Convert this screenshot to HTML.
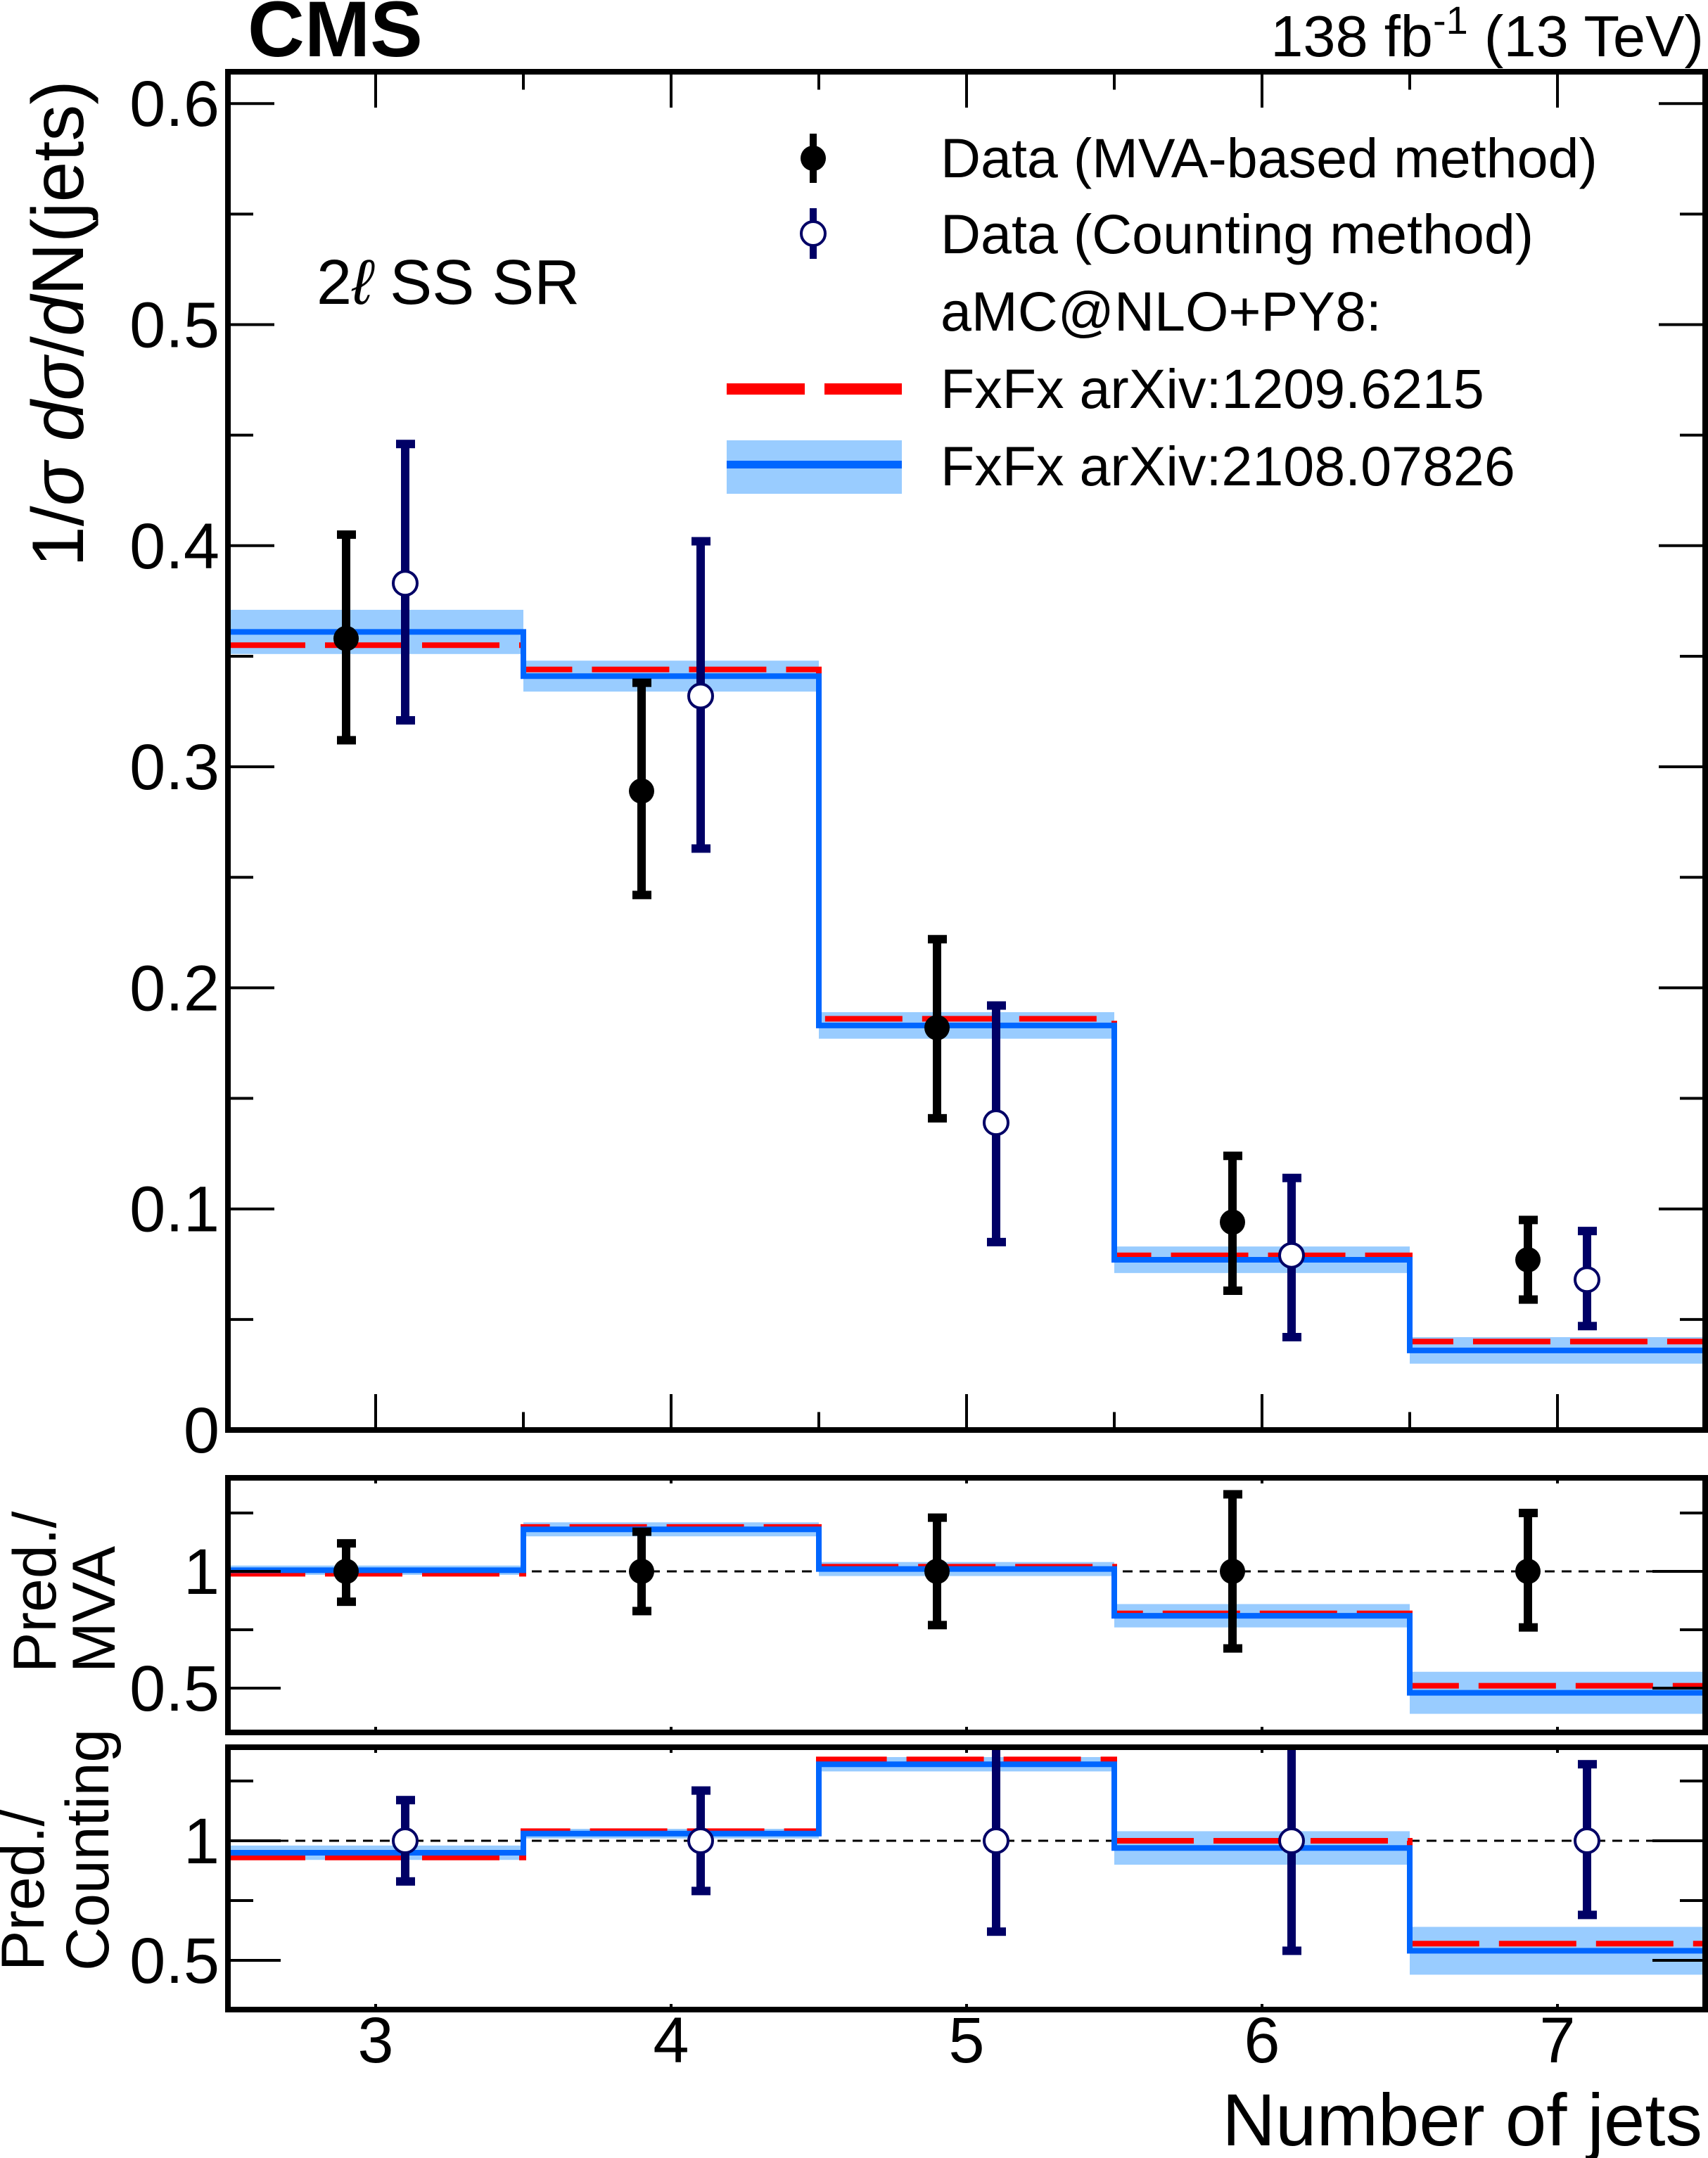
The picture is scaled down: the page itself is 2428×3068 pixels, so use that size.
<!DOCTYPE html>
<html><head><meta charset="utf-8">
<style>
html,body{margin:0;padding:0;background:#fff;}
svg{display:block;font-family:"Liberation Sans",sans-serif;}
</style></head>
<body>
<svg id="chart" width="2428" height="3068" viewBox="0 0 2428 3068" xmlns="http://www.w3.org/2000/svg">
<g id="layer-bands"></g>
<g id="layer-lines"></g>
<g id="layer-data"></g>
<g id="layer-axes"></g>
<text x="352" y="80" font-size="112" font-weight="bold">CMS</text>
<text x="2422" y="80" font-size="83" text-anchor="end">138 fb<tspan dy="-32" font-size="56">-1</tspan><tspan dy="32"> (13 TeV)</tspan></text>
<text x="450" y="432" font-size="90">2<tspan font-style="italic">ℓ</tspan> SS SR</text>
<text transform="translate(118,460) rotate(-90)" font-size="104" text-anchor="middle">1/<tspan font-style="italic">σ</tspan> <tspan font-style="italic">d</tspan><tspan font-style="italic">σ</tspan>/<tspan font-style="italic">d</tspan>N(jets)</text>
<text transform="translate(0,2378) rotate(-90)" font-size="86" text-anchor="start"><tspan x="0" y="79">Pred./</tspan><tspan x="0" y="163">MVA</tspan></text>
<text transform="translate(0,2802) rotate(-90)" font-size="86" text-anchor="start"><tspan x="0" y="62">Pred./</tspan><tspan x="0" y="154">Counting</tspan></text>
<text x="2420" y="3050" font-size="105" text-anchor="end">Number of jets</text>
<g font-size="79">
  <g>
    <line x1="1156" y1="190" x2="1156" y2="260" stroke="#000" stroke-width="10"/>
    <circle cx="1156" cy="225" r="18" fill="#000"/>
    <text x="1337" y="252">Data (MVA-based method)</text>
  </g>
  <g>
    <line x1="1156" y1="296" x2="1156" y2="368" stroke="#000066" stroke-width="10"/>
    <circle cx="1156" cy="332" r="17" fill="#fff" stroke="#000066" stroke-width="4"/>
    <text x="1337" y="360">Data (Counting method)</text>
  </g>
  <text x="1337" y="470">aMC@NLO+PY8:</text>
  <g>
    <rect x="1033" y="545" width="111" height="16" fill="#ff0000"/>
    <rect x="1172" y="545" width="110" height="16" fill="#ff0000"/>
    <text x="1337" y="580">FxFx arXiv:1209.6215</text>
  </g>
  <g>
    <rect x="1033" y="626" width="249" height="76" fill="#99ccff"/>
    <rect x="1033" y="655" width="249" height="11" fill="#0066ff"/>
    <text x="1337" y="690">FxFx arXiv:2108.07826</text>
  </g>
</g>
<script>
// ---- data ----
const binEdges = [2.5, 3.5, 4.5, 5.5, 6.5, 7.5];
const xTickValues = [3, 4, 5, 6, 7];
const xTickLabels = ["3", "4", "5", "6", "7"];
const mainTickValues = [0, 0.1, 0.2, 0.3, 0.4, 0.5, 0.6];
const mainTickLabels = ["0", "0.1", "0.2", "0.3", "0.4", "0.5", "0.6"];
const ratioTickValues = [0.5, 1];
const ratioTickLabels = ["0.5", "1"];

const mvaX = [2.9, 3.9, 4.9, 5.9, 6.9];
const mvaY = [0.358, 0.289, 0.182, 0.094, 0.077];
const mvaLo = [0.312, 0.242, 0.141, 0.063, 0.059];
const mvaHi = [0.405, 0.338, 0.222, 0.124, 0.095];

const cntX = [3.1, 4.1, 5.1, 6.1, 7.1];
const cntY = [0.383, 0.332, 0.139, 0.079, 0.068];
const cntLo = [0.321, 0.263, 0.085, 0.042, 0.047];
const cntHi = [0.446, 0.402, 0.192, 0.114, 0.090];

const oldPred = [0.355, 0.344, 0.186, 0.079, 0.040];
const newPred = [0.361, 0.341, 0.183, 0.077, 0.036];
const newPredUnc = [0.010, 0.007, 0.006, 0.006, 0.006];

const r1Old = [0.99, 1.19, 1.02, 0.82, 0.51];
const r1New = [1.005, 1.18, 1.01, 0.81, 0.48];
const r1Unc = [0.02, 0.03, 0.03, 0.05, 0.09];
const r1DataLo = [0.87, 0.83, 0.77, 0.67, 0.76];
const r1DataHi = [1.12, 1.17, 1.23, 1.33, 1.25];

const r2Old = [0.93, 1.04, 1.34, 1.00, 0.57];
const r2New = [0.95, 1.03, 1.32, 0.97, 0.54];
const r2Unc = [0.03, 0.02, 0.03, 0.07, 0.10];
const r2DataLo = [0.83, 0.79, 0.62, 0.54, 0.69];
const r2DataHi = [1.17, 1.21, 1.45, 1.45, 1.32];

// ---- layout ----
const NS = "http://www.w3.org/2000/svg";
const X0 = 324, X1 = 2424;
const xs = v => X0 + (v - 2.5) * (X1 - X0) / 5;
const panels = [
  {top: 102, bot: 2033, y: v => 2033 - v * 3143, vmin: 0, vmax: 0.614, name: "main"},
  {top: 2101, bot: 2463, y: v => 2234 - (v - 1) * 332, vmin: 0.31, vmax: 1.40, name: "ratio-mva"},
  {top: 2484, bot: 2857, y: v => 2617 - (v - 1) * 340, vmin: 0.29, vmax: 1.39, name: "ratio-counting"}
];
const gB = document.getElementById('layer-bands');
const gL = document.getElementById('layer-lines');
const gD = document.getElementById('layer-data');
const gA = document.getElementById('layer-axes');
function mk(tag, attrs, parent) {
  const e = document.createElementNS(NS, tag);
  for (const k in attrs) e.setAttribute(k, attrs[k]);
  parent.appendChild(e);
  return e;
}
function clampV(p, v) { return Math.max(p.vmin, Math.min(p.vmax, v)); }

function drawPreds(p, oldV, newV, unc) {
  for (let i = 0; i < newV.length; i++) {
    const r = mk('rect', {x: xs(binEdges[i]), y: p.y(clampV(p, newV[i] + unc[i])), width: xs(binEdges[i+1]) - xs(binEdges[i]), height: p.y(newV[i] - unc[i]) - p.y(newV[i] + unc[i]), fill: '#99ccff'}, gB);
    
    
  }
  function stepPath(vals) {
    let d = 'M' + xs(binEdges[0]) + ' ' + p.y(vals[0]);
    for (let i = 0; i < vals.length; i++) {
      d += ' L' + xs(binEdges[i+1]) + ' ' + p.y(vals[i]);
      if (i + 1 < vals.length) d += ' L' + xs(binEdges[i+1]) + ' ' + p.y(vals[i+1]);
    }
    return d;
  }
  const ro = mk('path', {d: stepPath(oldV), fill: 'none', stroke: '#ff0000', 'stroke-width': 8, 'stroke-dasharray': '110 28'}, gL);
  
  
  const bl = mk('path', {d: stepPath(newV), fill: 'none', stroke: '#0066ff', 'stroke-width': 8}, gL);
  
  
}
function drawPoints(p, xv, yv, lo, hi, color, open, label) {
  for (let i = 0; i < xv.length; i++) {
    const g = mk('g', {}, gD);
    
    
    const x = xs(xv[i]);
    const yl = p.y(clampV(p, lo[i])), yh = p.y(clampV(p, hi[i]));
    mk('line', {x1: x, x2: x, y1: yh, y2: yl, stroke: color, 'stroke-width': 12}, g);
    if (hi[i] <= p.vmax) mk('rect', {x: x - 13, y: yh - 6, width: 27, height: 12, fill: color}, g);
    if (lo[i] >= p.vmin) mk('rect', {x: x - 13, y: yl - 6, width: 27, height: 12, fill: color}, g);
    if (open) mk('circle', {cx: x, cy: p.y(yv[i]), r: 17, fill: '#fff', stroke: color, 'stroke-width': 4}, g);
    else mk('circle', {cx: x, cy: p.y(yv[i]), r: 18, fill: color}, g);
  }
}
function drawAxes(p, tv, tl, minorVals, showX) {
  const fr = mk('rect', {x: X0, y: p.top, width: X1 - X0, height: p.bot - p.top, fill: 'none', stroke: '#000', 'stroke-width': 8}, gA);
  
  
  const big = p.name === 'main';
  for (let i = 0; i < tv.length; i++) {
    const y = p.y(tv[i]);
    mk('line', {x1: X0, x2: X0 + (big ? 66 : 75), y1: y, y2: y, stroke: '#000', 'stroke-width': 4}, gA);
    mk('line', {x1: X1, x2: X1 - (big ? 66 : 75), y1: y, y2: y, stroke: '#000', 'stroke-width': 4}, gA);
    const t = mk('text', {x: X0 - 12, y: y + 32, 'font-size': 92, 'text-anchor': 'end'}, gA);
    t.textContent = tl[i];
    
    
  }
  for (const v of minorVals) {
    const y = p.y(v);
    mk('line', {x1: X0, x2: X0 + 36, y1: y, y2: y, stroke: '#000', 'stroke-width': 4}, gA);
    mk('line', {x1: X1, x2: X1 - 36, y1: y, y2: y, stroke: '#000', 'stroke-width': 4}, gA);
  }
  const tlen = big ? 51 : 8;
  for (let k = 0; k < binEdges.length; k++) {
    const x = xs(binEdges[k]);
    mk('line', {x1: x, x2: x, y1: p.bot, y2: p.bot - tlen / 2, stroke: '#000', 'stroke-width': 4}, gA);
    mk('line', {x1: x, x2: x, y1: p.top, y2: p.top + tlen / 2, stroke: '#000', 'stroke-width': 4}, gA);
  }
  for (let k = 0; k < xTickValues.length; k++) {
    const x = xs(xTickValues[k]);
    mk('line', {x1: x, x2: x, y1: p.bot, y2: p.bot - tlen, stroke: '#000', 'stroke-width': 4}, gA);
    mk('line', {x1: x, x2: x, y1: p.top, y2: p.top + tlen, stroke: '#000', 'stroke-width': 4}, gA);
    if (showX) {
      const t = mk('text', {x: x, y: 2932, 'font-size': 92, 'text-anchor': 'middle'}, gA);
      t.textContent = xTickLabels[k];
      
      
    }
  }
}
// main
drawPreds(panels[0], oldPred, newPred, newPredUnc);
drawPoints(panels[0], mvaX, mvaY, mvaLo, mvaHi, '#000', false, 'mva');
drawPoints(panels[0], cntX, cntY, cntLo, cntHi, '#000066', true, 'counting');
drawAxes(panels[0], mainTickValues, mainTickLabels, [0.05, 0.15, 0.25, 0.35, 0.45, 0.55], false);
// ratio panels
[1, 2].forEach(k => {
  const p = panels[k];
  const dl = mk('line', {x1: X0, x2: X1, y1: p.y(1), y2: p.y(1), stroke: '#000', 'stroke-width': 3, 'stroke-dasharray': '14 10'}, gB);
  
  
});
drawPreds(panels[1], r1Old, r1New, r1Unc);
drawPreds(panels[2], r2Old, r2New, r2Unc);
const ones = mvaX.map(() => 1);
drawPoints(panels[1], mvaX, ones, r1DataLo, r1DataHi, '#000', false, 'ratio-mva');
drawPoints(panels[2], cntX, ones, r2DataLo, r2DataHi, '#000066', true, 'ratio-counting');
drawAxes(panels[1], ratioTickValues, ratioTickLabels, [0.75, 1.25], false);
drawAxes(panels[2], ratioTickValues, ratioTickLabels, [0.75, 1.25], true);
</script>
</svg>
</body></html>
